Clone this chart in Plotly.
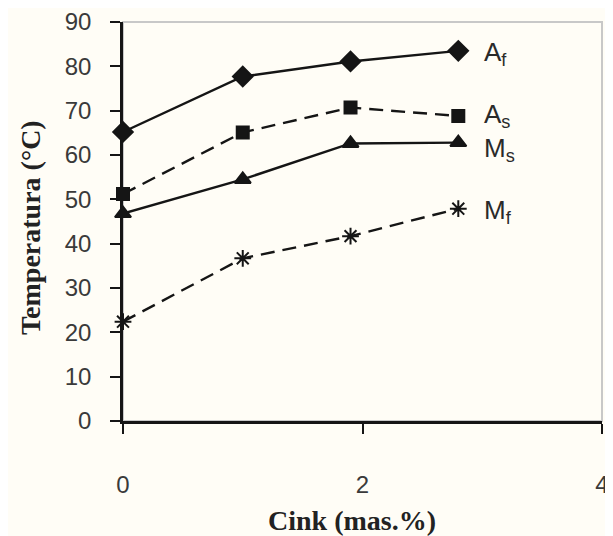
import plotly.graph_objects as go

zinc = [0, 1.0, 1.9, 2.8]
af = [65.2, 77.7, 81.1, 83.5]
as_ = [51.2, 65.1, 70.7, 68.8]
ms = [46.8, 54.5, 62.6, 62.8]
mf = [22.4, 36.7, 41.7, 47.9]

series = [
    ("A<sub>f</sub>", af, "solid", "diamond", 15, 83.0),
    ("A<sub>s</sub>", as_, "14px,8px", "square", 12, 68.9),
    ("M<sub>s</sub>", ms, "solid", "triangle-up", 14, 61.2),
    ("M<sub>f</sub>", mf, "14px,8px", "asterisk-open", 14, 47.2),
]

# page has an 8px body margin; plot area in screen pixels: x 123..602, y 22..421
PX_L, PX_R, PX_T, PX_B = 123, 602, 22, 421

ink = "#151515"
fig = go.Figure()
for name, vals, dash, sym, size, ly in series:
    fig.add_trace(go.Scatter(
        x=zinc, y=vals, mode="lines+markers", name=name,
        line=dict(color=ink, width=2.4, dash=dash),
        marker=dict(symbol=sym, size=size, color=ink,
                    line=dict(color=ink, width=2)),
        cliponaxis=False, showlegend=False,
    ))
    fig.add_annotation(x=3.0, y=ly, xref="x", yref="y", text=name,
                       showarrow=False, xanchor="left", yanchor="middle",
                       font=dict(family="Liberation Sans", size=26, color="#2a2a2a"))

fig.add_shape(type="rect", xref="paper", yref="paper", x0=0, x1=1, y0=0, y1=1,
              line=dict(color="#c8c8c8", width=2), layer="below")

W = PX_R - PX_L
H = PX_B - PX_T
fig.add_annotation(xref="paper", yref="paper", x=(352 - PX_L) / W,
                   y=-(520 - PX_B) / H, yanchor="middle", xanchor="center",
                   text="<b>Cink (mas.%)</b>", showarrow=False,
                   font=dict(family="Liberation Serif", size=28, color="#222"))
fig.add_annotation(xref="paper", yref="paper", x=-(PX_L - 30) / W,
                   y=(PX_B - 228) / H, text="<b>Temperatura (°C)</b>",
                   textangle=-90, showarrow=False, xanchor="center", yanchor="middle",
                   font=dict(family="Liberation Serif", size=28, color="#222"))

fig.update_layout(
    width=605, height=528,
    margin=dict(l=PX_L - 8, r=605 - (PX_R - 8), t=PX_T - 8, b=528 - (PX_B - 8)),
    paper_bgcolor="#fffdf6", plot_bgcolor="#fffdf6",
    xaxis=dict(range=[0, 4], tickvals=[0, 2, 4], ticks="outside", ticklen=10,
               tickwidth=2, tickcolor=ink, showline=True, linecolor=ink, linewidth=2.5,
               showgrid=False, zeroline=False, ticklabelstandoff=30, automargin=False,
               tickfont=dict(family="Liberation Sans", size=24, color="#3a3a3a")),
    yaxis=dict(range=[0, 90], dtick=10, ticks="outside", ticklen=10,
               tickwidth=2, tickcolor=ink, showline=True, linecolor=ink, linewidth=2.5,
               showgrid=False, zeroline=False, ticklabelstandoff=14, automargin=False,
               tickfont=dict(family="Liberation Sans", size=24, color="#3a3a3a")),
)

fig.write_html("out.html")
